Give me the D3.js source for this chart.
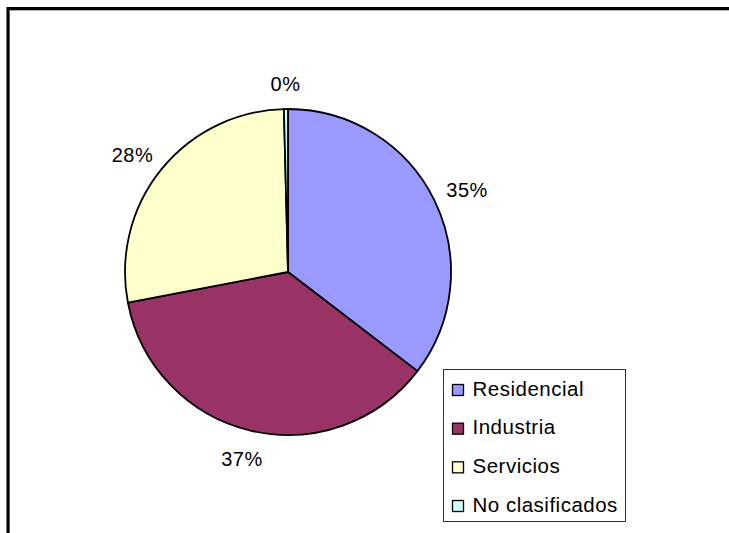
<!DOCTYPE html>
<html>
<head>
<meta charset="utf-8">
<script src="https://cdn.jsdelivr.net/npm/d3@7"></script>
<style>
  body { margin: 0; background: #fff; }
  text { font-family: "Liberation Sans", Arial, sans-serif; fill: #000; letter-spacing: 0.5px; }
</style>
</head>
<body>
<div class="chart"></div>
<script>
(() => {
var categories = ['Residencial', 'Industria', 'Servicios', 'No clasificados'];
var values = [35.4, 36.6, 27.6, 0.4];
var labels = ['35%', '37%', '28%', '0%'];
var colors = ['#9999ff', '#993366', '#ffffcc', '#ccffff'];

var width = 729,
    height = 533,
    radius = 163,
    cx = 288,
    cy = 272;

var svg = d3.select('div.chart')
    .append('svg')
        .attr('width', width)
        .attr('height', height);

// chart area frame (only top and left edges are visible)
svg.append('path')
    .attr('d', 'M9,534 V10 H730')
    .attr('fill', 'none')
    .attr('stroke', '#999')
    .attr('stroke-width', 1.5);
svg.append('path')
    .attr('d', 'M8,534 V8.5 H730')
    .attr('fill', 'none')
    .attr('stroke', '#000')
    .attr('stroke-width', 3);

var g = svg.append('g')
    .attr('transform', 'translate(' + cx + ',' + cy + ')');

var pie = d3.pie()
    .value((d) => d)
    .sort(null);

var arc = d3.arc()
    .innerRadius(0)
    .outerRadius(radius);

var labelArc = d3.arc()
    .innerRadius(radius + 16)
    .outerRadius(radius + 16);

var color = d3.scaleOrdinal()
    .domain(categories)
    .range(colors);

var arcs = pie(values);

g.selectAll('path.slice')
    .data(arcs)
    .enter()
    .append('path')
        .attr('class', 'slice')
        .attr('d', arc)
        .attr('fill', (d, i) => color(categories[i]))
        .attr('stroke', '#000')
        .attr('stroke-width', 1.8)
        .attr('stroke-linejoin', 'round');

// labels sit outside the edge, pushed out by half their box
g.selectAll('text.pct')
    .data(arcs)
    .enter()
    .append('text')
        .attr('class', 'pct')
        .attr('text-anchor', 'middle')
        .attr('dy', '0.35em')
        .style('font-size', '20px')
        .text((d, i) => labels[i])
        .attr('transform', function(d) {
            var box = this.getBBox();
            var mid = (d.startAngle + d.endAngle) / 2;
            var pos = labelArc.centroid(d);
            pos[0] += Math.sin(mid) * box.width / 2;
            pos[1] += -Math.cos(mid) * box.height / 2 + 2;
            return 'translate(' + pos + ')';
        });

// legend
var legend = svg.append('g')
    .attr('transform', 'translate(443.5,369.5)');

legend.append('rect')
    .attr('width', 182)
    .attr('height', 152)
    .attr('fill', '#fff')
    .attr('stroke', '#333')
    .attr('stroke-width', 1);

var y = d3.scalePoint()
    .domain(categories)
    .range([26, 142]);

var item = legend.selectAll('g.item')
    .data(categories)
    .enter()
    .append('g')
        .attr('class', 'item')
        .attr('transform', (d) => 'translate(0,' + y(d) + ')');

item.append('rect')
    .attr('x', 9)
    .attr('y', -11)
    .attr('width', 11)
    .attr('height', 11)
    .attr('fill', (d) => color(d))
    .attr('stroke', '#000')
    .attr('stroke-width', 1.3);

item.append('text')
    .attr('x', 29)
    .style('font-size', '20.5px')
    .text((d) => d);
})();
</script>
</body>
</html>
